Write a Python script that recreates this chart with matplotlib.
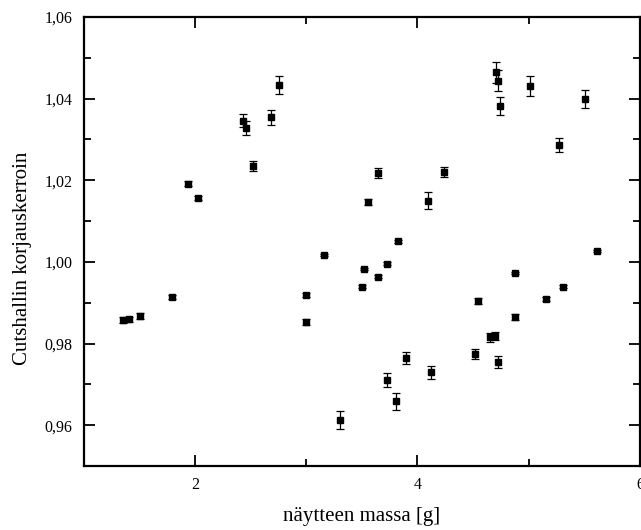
import matplotlib
matplotlib.use("Agg")
import matplotlib.pyplot as plt
from matplotlib.ticker import MultipleLocator, FuncFormatter

mass = [1.350, 1.410, 1.509, 1.793, 1.934, 2.024, 2.431, 2.458, 2.521, 2.680, 2.752,
        2.997, 2.997, 3.159, 3.303, 3.498, 3.518, 3.557, 3.641, 3.641, 3.722, 3.722,
        3.809, 3.827, 3.896, 4.096, 4.120, 4.240, 4.519, 4.543, 4.651, 4.693, 4.704,
        4.720, 4.725, 4.740, 4.878, 4.881, 5.010, 5.154, 5.273, 5.304, 5.510, 5.615]
factor = [0.9858, 0.9859, 0.9868, 0.9914, 1.0192, 1.0156, 1.0346, 1.0327, 1.0235, 1.0354, 1.0433,
          0.9919, 0.9853, 1.0017, 0.9612, 0.9939, 0.9983, 1.0146, 1.0217, 0.9964, 0.9996, 0.9711,
          0.9658, 1.0050, 0.9765, 1.0150, 0.9730, 1.0221, 0.9774, 0.9905, 0.9815, 0.9819, 1.0464,
          0.9755, 1.0444, 1.0382, 0.9973, 0.9865, 1.0431, 0.9909, 1.0286, 0.9939, 1.0400, 1.0026]
error = [0.0007, 0.0007, 0.0007, 0.0005, 0.0006, 0.0005, 0.0016, 0.0017, 0.0013, 0.0018, 0.0022,
         0.0004, 0.0008, 0.0003, 0.0022, 0.0004, 0.0003, 0.0007, 0.0012, 0.0003, 0.0003, 0.0017,
         0.0020, 0.0003, 0.0014, 0.0020, 0.0016, 0.0012, 0.0013, 0.0007, 0.0011, 0.0010, 0.0025,
         0.0014, 0.0025, 0.0021, 0.0003, 0.0008, 0.0025, 0.0006, 0.0017, 0.0004, 0.0022, 0.0003]

plt.rcParams['font.family'] = ['Liberation Serif', 'DejaVu Serif']

fig = plt.figure(figsize=(6.41, 5.30), dpi=100)
ax = fig.add_axes([0.1306, 0.1208, 0.8678, 0.8472])

ax.errorbar(mass, factor, yerr=error, fmt='s', color='black', ms=4.2,
            ecolor='black', elinewidth=0.9, capsize=3.2, capthick=0.9)

ax.set_xlim(1, 6)
ax.set_ylim(0.95, 1.06)
ax.xaxis.set_major_locator(MultipleLocator(2))
ax.xaxis.set_minor_locator(MultipleLocator(1))
ax.yaxis.set_major_locator(MultipleLocator(0.02))
ax.yaxis.set_minor_locator(MultipleLocator(0.01))

ax.xaxis.set_major_formatter(FuncFormatter(lambda v, p: f"{v:.0f}"))
ax.yaxis.set_major_formatter(FuncFormatter(lambda v, p: f"{v:.2f}".replace('.', ',')))

ax.tick_params(which='both', direction='in', top=True, right=True, width=1.3,
               labelsize=11.5, pad=8)
ax.tick_params(which='major', length=8)
ax.tick_params(which='minor', length=5)
for s in ax.spines.values():
    s.set_linewidth(1.6)

ax.set_xlabel("näytteen massa [g]", fontsize=15, labelpad=10)
ax.set_ylabel("Cutshallin korjauskerroin", fontsize=15)
ax.yaxis.set_label_coords(-0.093, 0.463)

fig.savefig("out.png", dpi=100)
